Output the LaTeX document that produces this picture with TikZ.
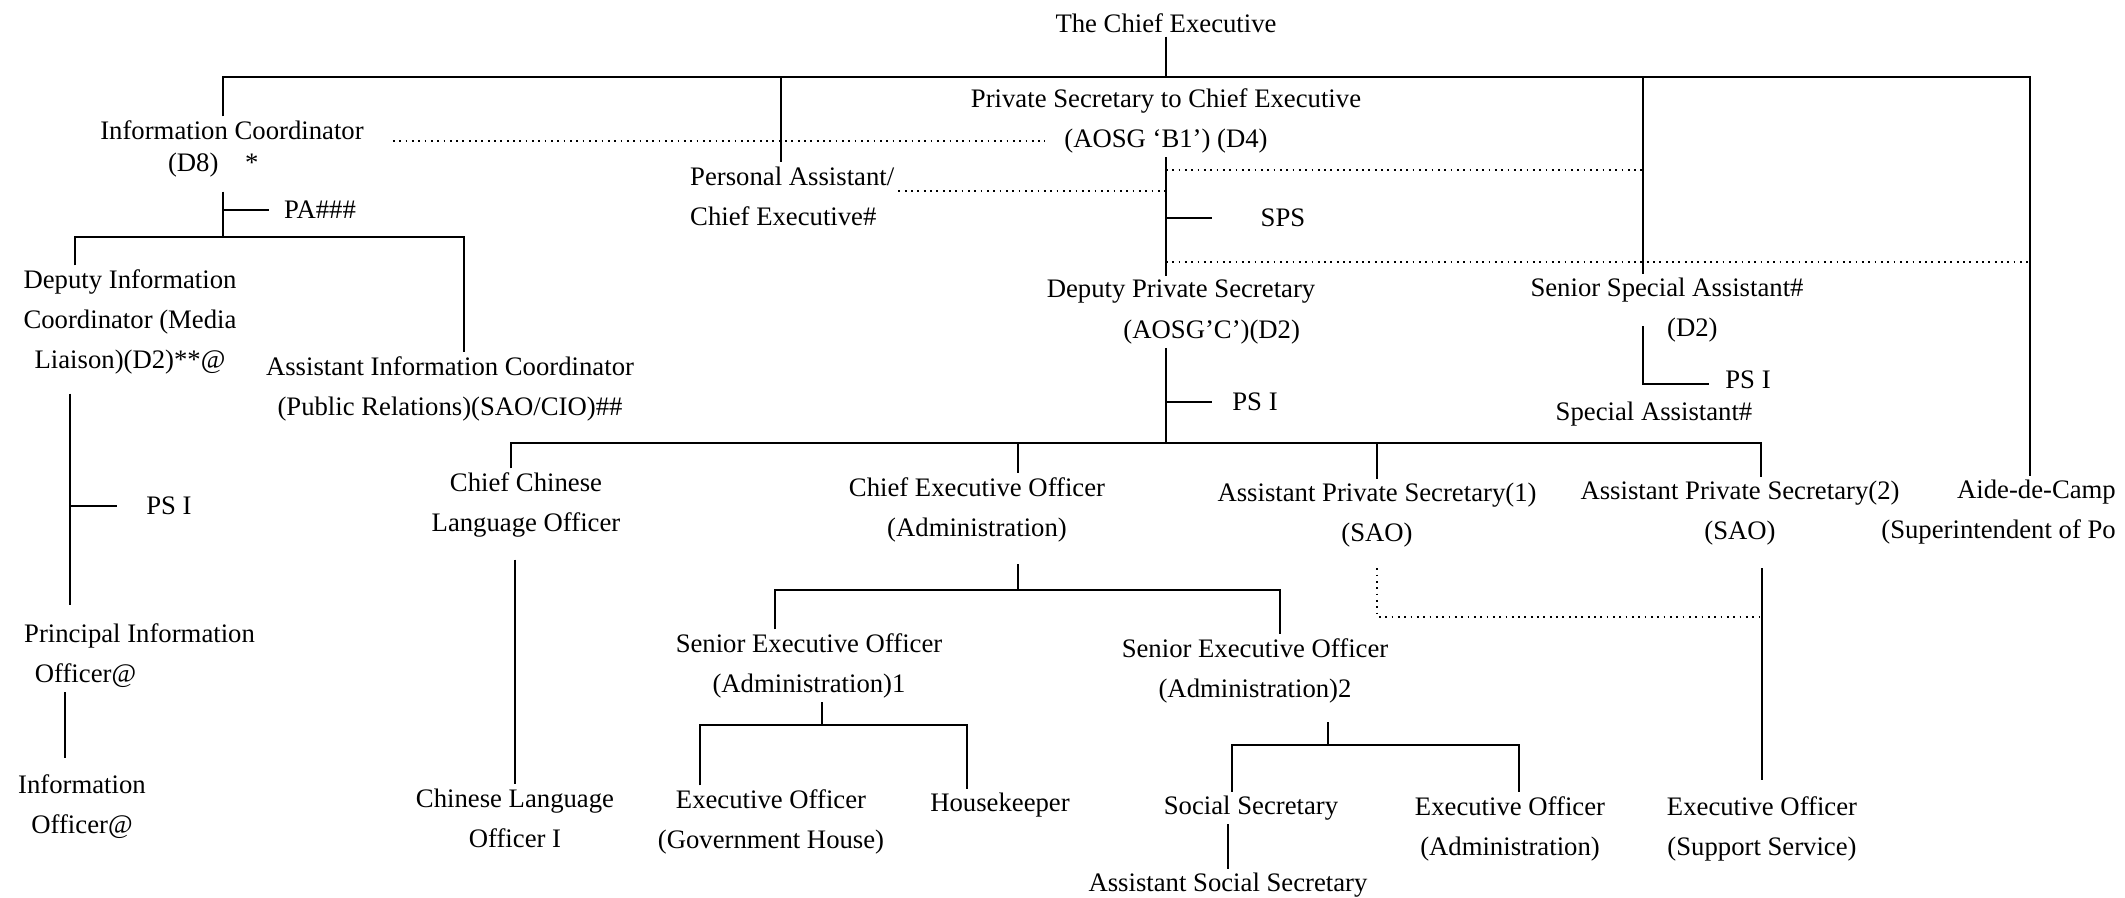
\documentclass[tikz,border=0pt]{standalone}
\usepackage{fontspec}
\setmainfont{Liberation Serif}
\usepackage{tikz}

\tikzset{
  post/.style={inner sep=1pt, align=center, font=\fontsize{7.6}{11.4}\selectfont},
  link/.style={line width=0.75pt},
  dotlink/.style={line width=0.5pt, dash pattern=on 0.5pt off 1.3pt}
}

\begin{document}
\begin{tikzpicture}[x=0.1mm, y=-0.1mm]
    \useasboundingbox (0,0) rectangle (2125,898);

    % posts
    \node (ce) at (1166,23) [post] {The Chief Executive};
    \node (ic) at (232,149) [post] {Information Coordinator\\[-2.2pt](D8)\quad*\hspace*{1.4em}};
    \node (ps) at (1166,121) [post] {Private Secretary to Chief Executive\\(AOSG `B1') (D4)};
    \node (pa) at (686,196) [post, align=left, anchor=west] {Personal Assistant/\\Chief Executive\#};
    \node (sps) at (1283,218) [post] {SPS};
    \node (dps) at (1181,312) [post] {Deputy Private Secretary\\\hspace*{2.3em}(AOSG'C')(D2)};
    \node (dpsps) at (1255,402) [post] {PS I};
    \node (ssa) at (1667,310) [post] {Senior Special Assistant\#\\\hspace*{1.9em}(D2)};
    \node (ssaps) at (1748,380) [post] {PS I};
    \node (sa) at (1654,414) [post] {Special Assistant\#};
    \node (aide) at (2120,512) [post, align=right, anchor=east] {Aide-de-Camp\\(Superintendent of Po};
    \node (dic) at (130,322) [post] {Deputy Information\\Coordinator (Media\\Liaison)(D2)**@};
    \node (paic) at (320,210) [post] {PA\#\#\#};
    \node (aic) at (450,389) [post] {Assistant Information Coordinator\\(Public Relations)(SAO/CIO)\#\#};
    \node (dicps) at (169,506) [post] {PS I};
    \node (pio) at (20,656) [post, align=left, anchor=west] {Principal Information\\\hspace*{0.4em}Officer@};
    \node (io) at (82,807) [post] {Information\\Officer@};
    \node (cclo) at (526,505) [post] {Chief Chinese\\Language Officer};
    \node (clo) at (515,818) [post] {Chinese Language\\Officer I};
    \node (ceo) at (977,510) [post] {Chief Executive Officer\\(Administration)};
    \node (aps1) at (1377,515) [post] {Assistant Private Secretary(1)\\(SAO)};
    \node (aps2) at (1740,513) [post] {Assistant Private Secretary(2)\\(SAO)};
    \node (seo1) at (809,666) [post] {Senior Executive Officer\\(Administration)1};
    \node (seo2) at (1255,671) [post] {Senior Executive Officer\\(Administration)2};
    \node (eogh) at (771,822) [post] {Executive Officer\\(Government House)};
    \node (hk) at (1000,805) [post] {Housekeeper};
    \node (socsec) at (1251,808) [post] {Social Secretary};
    \node (ass) at (1228,885) [post] {Assistant Social Secretary};
    \node (eoa) at (1510,829) [post] {Executive Officer\\(Administration)};
    \node (eos) at (1762,829) [post] {Executive Officer\\(Support Service)};

    % junctions
    \coordinate (top-l) at (223,77);
    \coordinate (top-r) at (2030,77);
    \coordinate (pa-j) at (781,77);
    \coordinate (ssa-j) at (1643,384);
    \coordinate (ic-dot) at (1045,141);
    \coordinate (pa-dot) at (0,191);
    \coordinate (dot-a) at (0,170);
    \coordinate (dot-b) at (0,262);
    \coordinate (ic-bus-l) at (75,237);
    \coordinate (ic-bus-r) at (464,237);
    \coordinate (dic-j) at (70,506);
    \coordinate (pio-j) at (65,700);
    \coordinate (dps-bus-l) at (511,443);
    \coordinate (dps-bus-r) at (1761,443);
    \coordinate (ceo-j) at (1018,443);
    \coordinate (ceo-bus-l) at (775,590);
    \coordinate (ceo-bus-r) at (1280,590);
    \coordinate (seo1-j) at (822,725);
    \coordinate (seo1-bus-l) at (700,725);
    \coordinate (seo1-bus-r) at (967,725);
    \coordinate (seo2-j) at (1328,745);
    \coordinate (seo2-bus-l) at (1232,745);
    \coordinate (seo2-bus-r) at (1519,745);
    \coordinate (aps-dot) at (0,617);

    % top level
    \draw[link] (ce) -- (ce |- top-l);
    \draw[link] (top-l |- ic.north) -- (top-l) -- (top-r) -- (top-r |- aide.north);
    \draw[link] (pa-j) -- (pa-j |- pa.north);
    \draw[link] (ssa-j |- top-l) -- (ssa-j |- ssa.north);
    \draw[dotlink, shorten <=2.5mm] (ic.east |- ic-dot) -- (ic-dot);
    \draw[dotlink] (pa.east |- pa-dot) -- (ps |- pa-dot);
    \draw[dotlink] (ps |- dot-a) -- (ssa-j |- dot-a);
    \draw[dotlink] (ps |- dot-b) -- (top-r |- dot-b);

    % private secretary
    \draw[link] (ps) -- (ps |- dps.north);
    \draw[link, shorten >=4.5mm] (ps |- sps) -- (sps);
    \draw[link, shorten >=1.6mm] (ps |- dpsps) -- (dpsps);
    \draw[link] (ps |- dps.south) -- (ps |- dps-bus-l);
    \draw[link, shorten <=-2mm, shorten >=1.2mm] (ssa-j |- ssa.south) -- (ssa-j) -- (ssaps.west |- ssa-j);
    \draw[link] (dps-bus-l |- cclo.north) -- (dps-bus-l) -- (dps-bus-r) -- (dps-bus-r |- aps2.north);
    \draw[link] (ceo-j) -- (ceo-j |- ceo.north);
    \draw[link] (aps1.north |- dps-bus-l) -- (aps1.north);
    \draw[link, shorten <=1.8mm] (clo.north |- cclo.south) -- (clo.north);

    % administration
    \draw[link, shorten <=1.8mm] (ceo-j |- ceo.south) -- (ceo-j |- ceo-bus-l);
    \draw[link] (ceo-bus-l |- seo1.north) -- (ceo-bus-l) -- (ceo-bus-r) -- (ceo-bus-r |- seo2.north);
    \draw[link] (seo1-j |- seo1.south) -- (seo1-j);
    \draw[link] (seo1-bus-l |- eogh.north) -- (seo1-bus-l) -- (seo1-bus-r) -- (seo1-bus-r |- hk.north);
    \draw[link, shorten <=1.5mm] (seo2-j |- seo2.south) -- (seo2-j);
    \draw[link] (seo2-bus-l |- socsec.north) -- (seo2-bus-l) -- (seo2-bus-r) -- (seo2-bus-r |- eoa.north);
    \draw[link] (ass.north |- socsec.south) -- (ass.north);
    \draw[dotlink, shorten <=1.7mm] (aps1.south) |- (eos.north |- aps-dot);
    \draw[link, shorten <=1.9mm, shorten >=1.2mm] (eos.north |- aps2.south) -- (eos.north);

    % information coordinator
    \draw[link, shorten <=1mm] (top-l |- ic.south) -- (top-l |- ic-bus-l);
    \draw[link, shorten >=1.1mm] (top-l |- paic) -- (paic);
    \draw[link] (ic-bus-l |- dic.north) -- (ic-bus-l) -- (ic-bus-r) -- (ic-bus-r |- aic.north);
    \draw[link, shorten <=1.5mm, shorten >=1.5mm] (dic-j |- dic.south) -- (dic-j |- pio.north);
    \draw[link, shorten >=2.5mm] (dic-j) -- (dicps);
    \draw[link, shorten >=1.3mm] (pio-j |- pio.south) -- (pio-j |- io.north);
\end{tikzpicture}
\end{document}
